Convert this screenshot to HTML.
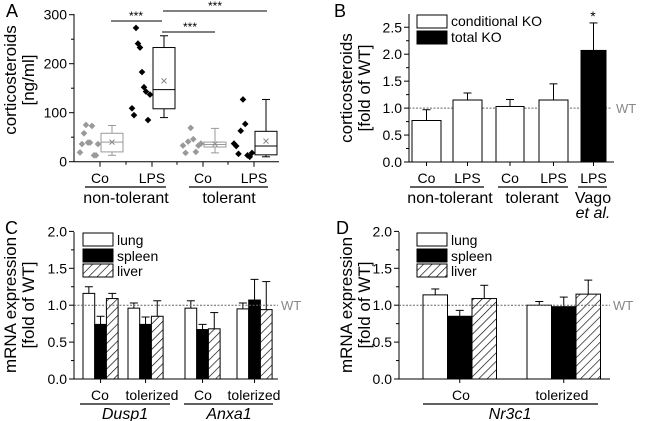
<!DOCTYPE html>
<html><head><meta charset="utf-8"><style>
body{margin:0;background:#fff}
svg{display:block;font-family:"Liberation Sans",Arial,sans-serif}
</style></head><body>
<svg id="fig" width="650" height="421" viewBox="0 0 650 421" xmlns="http://www.w3.org/2000/svg">
<defs><pattern id="hatch" patternUnits="userSpaceOnUse" width="6" height="6" patternTransform="rotate(45)"><rect width="6" height="6" fill="#fff"/><line x1="0" y1="0" x2="0" y2="6" stroke="#000" stroke-width="1.3"/></pattern></defs>
</svg>
<script>
// Panel A data
const aCoNT=[19,36,58,75,39,39,73,13,13,36];
const aLpsNT=[109,95,273,241,233,183,152,143,85,137];
const aCoT=[33,18,41,69,46,20,33,37];
const aLpsT=[37,32,16,63,127,77,13,10,18];
const aBoxes=[[13,20,40,58,74,40],[90,108,147,233,257,165],[18,30,35,40,68,36],[10,14,32,62,127,42]];
const aTicks=[0,100,200,300];
// Panel B data
const bCats=["Co","LPS","Co","LPS","LPS"];
const bVals=[0.77,1.15,1.03,1.15,2.07];
const bErr=[0.20,0.13,0.13,0.30,0.51];
const bTicks=["0.0","0.5","1.0","1.5","2.0","2.5"];
// Panel C data
const cCats=["Co","tolerized","Co","tolerized"];
const cLung=[1.16,0.96,0.96,0.95];
const cSpleen=[0.74,0.74,0.67,1.07];
const cLiver=[1.09,0.85,0.68,0.94];
const cLungE=[0.09,0.07,0.10,0.08];
const cSpleenE=[0.11,0.10,0.07,0.28];
const cLiverE=[0.07,0.21,0.22,0.38];
// Panel D data
const dCats=["Co","tolerized"];
const dLung=[1.14,1.00];
const dSpleen=[0.85,0.98];
const dLiver=[1.09,1.15];
const dLungE=[0.08,0.05];
const dSpleenE=[0.08,0.13];
const dLiverE=[0.18,0.19];
const cdTicks=["0.0","0.5","1.0","1.5","2.0"];

const svg=document.getElementById('fig');
const NS="http://www.w3.org/2000/svg";
function mk(tag,at,parent){const e=document.createElementNS(NS,tag);for(const k in at)e.setAttribute(k,at[k]);(parent||svg).appendChild(e);return e;}
function txt(x,y,s,size,anchor,parent,extra){const t=mk('text',Object.assign({x:x,y:y,'font-size':size,'text-anchor':anchor||'middle',fill:'#000'},extra||{}),parent);t.textContent=s;return t;}
function line(x1,y1,x2,y2,parent,col,w,dash){const a={x1:x1,y1:y1,x2:x2,y2:y2,stroke:col||'#000','stroke-width':w||1};if(dash)a['stroke-dasharray']=dash;return mk('line',a,parent);}
function group(name){const g=mk('g',{});return g;}
function yaxis(g,x,y0,yTop,scale,ticks,vals,minors){
  line(x,y0,x,yTop,g);
  ticks.forEach((lab,i)=>{const y=scale(vals[i]);line(x-5,y,x,y,g);const t=txt(x-7,y+5,lab,14,'end',g);});
  minors.forEach(v=>{const y=scale(v);line(x-3,y,x,y,g);});
}
function rotTitle(g,x,y,s,name){const t=txt(x,y,s,17,'middle',g,{transform:'rotate(-90 '+x+' '+y+')'});}
function panelLabel(x,y,s){const t=txt(x,y,s,18,'start');}

// ---------- Panel A ----------
(function(){
 const g=group('panel-a');
 const X0=74,Y0=161.7,yA=v=>Y0-v*0.49;
 const cx=[100,152,203,254];
 yaxis(g,X0,Y0,14,yA,aTicks.map(String),aTicks,[50,150,250]);
 line(X0,Y0,279,Y0,g);
 cx.forEach(c=>line(c,Y0,c,Y0+5,g));
 [126,177,228].forEach(c=>line(c,Y0,c,Y0+3,g));
 rotTitle(g,16,80,'corticosteroids','y-axis-title');
 rotTitle(g,34,80,'[ng/ml]','y-axis-unit');
 const sets=[aCoNT,aLpsNT,aCoT,aLpsT];
 sets.forEach((s,i)=>{const col=(i%2==0)?'#999':'#000';const base=cx[i]-20;
   s.forEach((v,j)=>{const x=base+j*(18/(s.length-1));const y=yA(v);
     const p=mk('polygon',{points:`${x},${y-3.3} ${x+3.3},${y} ${x},${y+3.3} ${x-3.3},${y}`,fill:col},g);
     });
   const b=aBoxes[i];const bx=cx[i]+12-11,bw=22,mid=cx[i]+12;const bcol=(i%2==0)?'#999':'#000';
   line(mid,yA(b[0]),mid,yA(b[1]),g,bcol);line(mid,yA(b[3]),mid,yA(b[4]),g,bcol);
   line(mid-4,yA(b[0]),mid+4,yA(b[0]),g,bcol);line(mid-4,yA(b[4]),mid+4,yA(b[4]),g,bcol);
   const r=mk('rect',{x:bx,y:yA(b[3]),width:bw,height:yA(b[1])-yA(b[3]),fill:'#fff',stroke:bcol,'stroke-width':1},g);
   
   line(bx,yA(b[2]),bx+bw,yA(b[2]),g,bcol);
   const my=yA(b[5]);line(mid-2.5,my-2.5,mid+2.5,my+2.5,g,'#888');line(mid-2.5,my+2.5,mid+2.5,my-2.5,g,'#888');
 });
 ['Co','LPS','Co','LPS'].forEach((s,i)=>{const t=txt(cx[i],183,s,14,'middle',g);});
 line(85,187,166,187,g,'#000',1.2);line(189,187,268,187,g,'#000',1.2);
 let t=txt(126,203,'non-tolerant',16,'middle',g);
 t=txt(229,203,'tolerant',16,'middle',g);
 line(111,21,162,21,g);txt(136,20,'***',12,'middle',g);
 line(162,32,215,32,g);txt(190,31,'***',12,'middle',g);
 line(163,11,267,11,g);txt(215,10,'***',12,'middle',g);
})();
panelLabel(6,17,'A');

// ---------- Panel B ----------
(function(){
 const g=group('panel-b');
 const X0=409,Y0=162,yB=v=>Y0-v*53.9;
 const starts=[412,453,496,539,581];const bw=[29,29,28,29,25];
 yaxis(g,X0,Y0,14,yB,bTicks,bTicks.map(Number),[0.25,0.75,1.25,1.75,2.25,2.75].filter(v=>v<2.74));
 line(X0,Y0,614,Y0,g);
 rotTitle(g,352,88,'corticosteroids','y-axis-title');
 rotTitle(g,370,88,'[fold of WT]','y-axis-unit');
 line(X0,yB(1),612,yB(1),g,'#666',1,'2,1.5');
 let t=txt(616,yB(1)+5,'WT',13,'start',g,{fill:'#888'});
 bVals.forEach((v,i)=>{const x=starts[i],w=bw[i],mid=x+w/2;
   line(mid,yB(v),mid,yB(v+bErr[i]),g);line(mid-4,yB(v+bErr[i]),mid+4,yB(v+bErr[i]),g);
   const r=mk('rect',{x:x,y:yB(v),width:w,height:Y0-yB(v),fill:i==4?'#000':'#fff',stroke:'#000','stroke-width':1},g);
   
   line(mid,Y0,mid,Y0+4,g);
   const l=txt(mid,183,bCats[i],14,'middle',g);
 });
 txt(593,21,'*',14,'middle',g);
 line(410,187,484,187,g,'#000',1.2);line(498,187,568,187,g,'#000',1.2);line(578,187,607,187,g,'#000',1.2);
 t=txt(450,203,'non-tolerant',16,'middle',g);
 t=txt(532,203,'tolerant',16,'middle',g);
 t=txt(593,203,'Vago',16,'middle',g);
 txt(593,218,'et al.',16,'middle',g,{'font-style':'italic'});
 const lg=mk('g',{},g);
 mk('rect',{x:417,y:15,width:30,height:13,fill:'#fff',stroke:'#000'},lg);
 mk('rect',{x:417,y:31,width:30,height:13,fill:'#000',stroke:'#000'},lg);
 txt(451,26,'conditional KO',14,'start',lg);txt(451,42,'total KO',14,'start',lg);
})();
panelLabel(334,17,'B');

// ---------- Panels C & D ----------
function barPanel(name,X0,xEnd,starts,bw,lung,spleen,liver,le,se,ve,cats,catX,groups,glines,titleX,legX){
 const g=group(name);
 const Y0=379,yC=v=>Y0-v*73.8;
 yaxis(g,X0,Y0,232,yC,cdTicks,cdTicks.map(Number),[0.25,0.75,1.25,1.75]);
 line(X0,Y0,xEnd,Y0,g);
 rotTitle(g,titleX,305,'mRNA expression','y-axis-title');
 rotTitle(g,titleX+18,305,'[fold of WT]','y-axis-unit');
 const series=[[lung,le,'#fff','lung'],[spleen,se,'#000','spleen'],[liver,ve,'url(#hatch)','liver']];
 starts.forEach((s,i)=>{series.forEach((sr,k)=>{const v=sr[0][i],e=sr[1][i],x=s+k*bw,mid=x+bw/2;
   line(mid,yC(v),mid,yC(v+e),g);line(mid-4,yC(v+e),mid+4,yC(v+e),g);
   const r=mk('rect',{x:x,y:yC(v),width:bw,height:Y0-yC(v),fill:sr[2],stroke:'#000','stroke-width':1},g);
   });
   line(s+bw*1.5,Y0,s+bw*1.5,Y0+4,g);});
 line(X0,yC(1),xEnd,yC(1),g,'#666',1,'2,1.5');
 let t=txt(xEnd+3,yC(1)+5,'WT',13,'start',g,{fill:'#888'});
 cats.forEach((c,i)=>{const l=txt(catX[i],400,c,14,'middle',g);});
 glines.forEach(a=>line(a[0],404,a[1],404,g,'#000',1.2));
 groups.forEach(a=>{const l=txt(a[1],419,a[0],16,'middle',g,{'font-style':'italic'});});
 const lg=mk('g',{},g);
 [['#fff','lung',233],['#000','spleen',249],['url(#hatch)','liver',264]].forEach(a=>{
   mk('rect',{x:legX,y:a[2],width:30,height:13,fill:a[0],stroke:'#000'},lg);txt(legX+34,a[2]+12,a[1],14,'start',lg);});
}
barPanel('panel-c',74,278,[83,128,185,237],11.7,cLung,cSpleen,cLiver,cLungE,cSpleenE,cLiverE,cCats,[100,152,203,254],[['Dusp1',125],['Anxa1',229]],[[80,170],[184,273]],16,83);
barPanel('panel-d',399,610,[423,527],24.5,dLung,dSpleen,dLiver,dLungE,dSpleenE,dLiverE,dCats,[461,562],[['Nr3c1',510]],[[423,598]],352,417);
panelLabel(5,234,'C');panelLabel(336,234,'D');
</script>
</body></html>
